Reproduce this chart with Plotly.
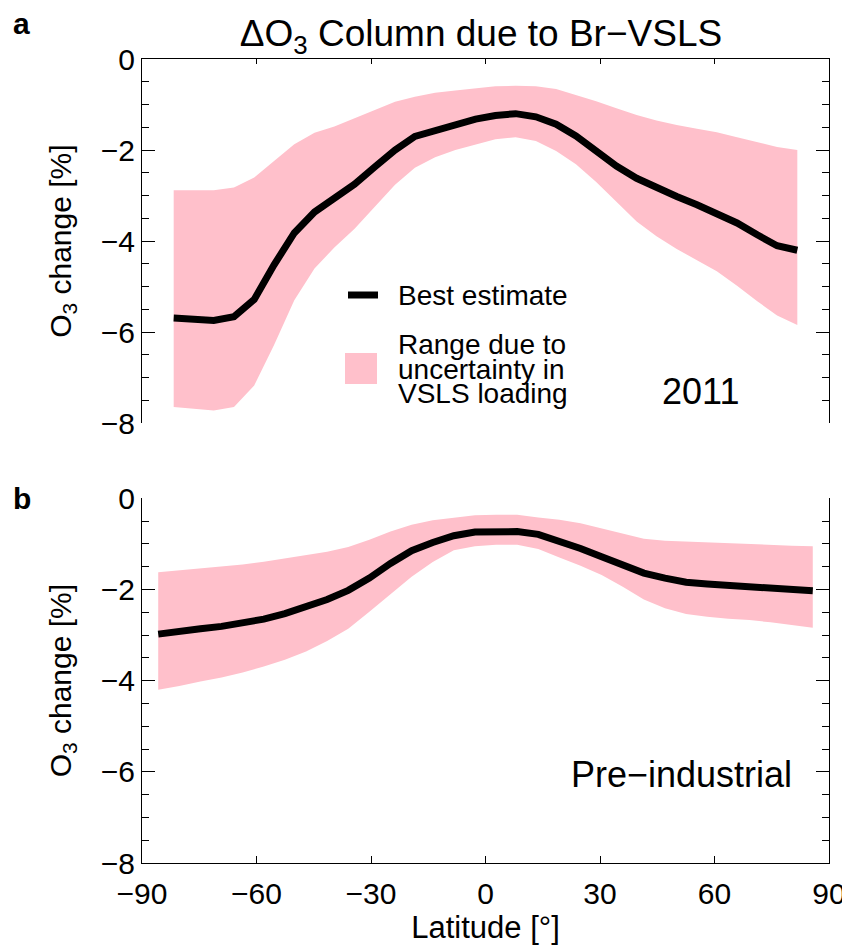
import plotly.graph_objects as go

# ---------------- data ----------------
lat_a = [-81.7, -76.4, -71.2, -65.9, -60.6, -55.4, -50.1, -44.8, -39.6, -34.3, -29.0, -23.7,
         -18.5, -13.2, -7.9, -2.6, 2.6, 7.9, 13.2, 18.5, 23.7, 29.0, 34.3, 39.6,
         44.8, 50.1, 55.4, 60.6, 65.9, 71.2, 76.4, 81.7]
best_a = [-5.69, -5.72, -5.74, -5.66, -5.28, -4.52, -3.82, -3.36, -3.04, -2.75, -2.37, -2.00,
          -1.70, -1.56, -1.43, -1.32, -1.24, -1.20, -1.27, -1.43, -1.69, -2.01, -2.35, -2.62,
          -2.83, -3.02, -3.20, -3.38, -3.60, -3.86, -4.10, -4.20]
upper_a = [-2.88, -2.88, -2.88, -2.82, -2.60, -2.24, -1.87, -1.62, -1.48, -1.30, -1.12, -0.94,
           -0.83, -0.74, -0.69, -0.64, -0.60, -0.59, -0.60, -0.66, -0.79, -0.93, -1.08, -1.23,
           -1.35, -1.45, -1.53, -1.61, -1.72, -1.82, -1.93, -2.00]
lower_a = [-7.64, -7.68, -7.72, -7.64, -7.17, -6.28, -5.30, -4.60, -4.14, -3.73, -3.25, -2.76,
           -2.39, -2.16, -2.00, -1.88, -1.76, -1.72, -1.80, -2.02, -2.31, -2.70, -3.14, -3.57,
           -3.89, -4.17, -4.42, -4.66, -4.98, -5.32, -5.63, -5.84]

lat_b = [-85.75, -80.22, -74.69, -69.15, -63.62, -58.09, -52.56, -47.02, -41.49, -35.96, -30.43, -24.90,
         -19.36, -13.83, -8.30, -2.77, 2.77, 8.30, 13.83, 19.36, 24.90, 30.43, 35.96, 41.49,
         47.02, 52.56, 58.09, 63.62, 69.15, 74.69, 80.22, 85.75]
best_b = [-2.98, -2.91, -2.86, -2.81, -2.74, -2.65, -2.53, -2.39, -2.22, -2.02, -1.75, -1.43,
          -1.15, -0.97, -0.82, -0.74, -0.72, -0.73, -0.79, -0.93, -1.10, -1.28, -1.48, -1.64,
          -1.75, -1.84, -1.88, -1.91, -1.94, -1.99, -2.01, -2.03]
upper_b = [-1.62, -1.58, -1.54, -1.50, -1.45, -1.39, -1.32, -1.25, -1.17, -1.07, -0.91, -0.73,
           -0.58, -0.48, -0.42, -0.37, -0.36, -0.36, -0.42, -0.47, -0.55, -0.66, -0.78, -0.89,
           -0.93, -0.95, -0.97, -0.98, -1.00, -1.02, -1.04, -1.05]
lower_b = [-4.20, -4.12, -4.02, -3.93, -3.82, -3.69, -3.54, -3.36, -3.13, -2.86, -2.49, -2.11,
           -1.72, -1.40, -1.14, -1.05, -1.02, -1.02, -1.11, -1.30, -1.48, -1.68, -1.94, -2.22,
           -2.41, -2.54, -2.60, -2.64, -2.67, -2.72, -2.78, -2.84]

x_ticks = [-90, -60, -30, 0, 30, 60, 90]
y_ticks = [0, -2, -4, -6, -8]

# ---------------- styling ----------------
FONT = "Liberation Sans, Arial, Helvetica, sans-serif"
PINK = "#FFC0CB"
BLACK = "#000000"
W, H = 850, 945
OFF = 8  # page body margin of the html page
ML, MR, MT, MB = 134, 29, 51, 90
PW, PH = W - ML - MR, H - MT - MB


def fx(px):  # page pixel -> paper
    return (px - OFF - ML) / PW


def fy(py):
    return (H - MB - (py - OFF)) / PH


fig = go.Figure()

for lat, lo, up, be, xa, ya in [(lat_a, lower_a, upper_a, best_a, "x", "y"),
                                (lat_b, lower_b, upper_b, best_b, "x2", "y2")]:
    fig.add_trace(go.Scatter(x=lat, y=lo, mode="lines", line=dict(width=0, color=PINK),
                             showlegend=False, hoverinfo="skip", xaxis=xa, yaxis=ya))
    fig.add_trace(go.Scatter(x=lat, y=up, mode="lines", line=dict(width=0, color=PINK),
                             fill="tonexty", fillcolor=PINK, showlegend=False,
                             hoverinfo="skip", xaxis=xa, yaxis=ya))
    fig.add_trace(go.Scatter(x=lat, y=be, mode="lines", line=dict(width=7, color=BLACK),
                             showlegend=False, xaxis=xa, yaxis=ya))

tickfont = dict(family=FONT, size=30, color=BLACK)
common_y = dict(range=[-8, 0], tickvals=y_ticks, ticks="inside", ticklen=13, tickwidth=1.3,
                tickcolor=BLACK, showline=True, linecolor=BLACK, linewidth=1.3, mirror="ticks",
                showgrid=False, zeroline=False, tickfont=tickfont,
                minor=dict(dtick=0.5, ticks="inside", ticklen=7, tickwidth=1.3, tickcolor=BLACK,
                           showgrid=False),
                title=dict(text="O<sub>3</sub> change [%]", font=dict(family=FONT, size=30, color=BLACK),
                           standoff=20))

bot_a = fy(423.3)
top_b = fy(498.3)

fig.update_layout(
    width=W, height=H,
    margin=dict(l=ML, r=MR, t=MT, b=MB, autoexpand=False),
    paper_bgcolor="white", plot_bgcolor="white",
    font=dict(family=FONT, color=BLACK),
    showlegend=False,
    xaxis=dict(domain=[0, 1], range=[-90, 90], anchor="y", side="top", tickvals=x_ticks,
               ticks="inside", ticklen=5, tickwidth=1.3, tickcolor=BLACK, showticklabels=False,
               showline=True, linecolor=BLACK, linewidth=1.3, mirror=False,
               showgrid=False, zeroline=False),
    yaxis=dict(domain=[bot_a, 1], anchor="x", **common_y),
    xaxis2=dict(domain=[0, 1], range=[-90, 90], anchor="y2", side="bottom", tickvals=x_ticks,
                ticks="inside", ticklen=7, tickwidth=1.3, tickcolor=BLACK, tickfont=tickfont,
                ticklabelstandoff=4,
                showline=True, linecolor=BLACK, linewidth=1.3, mirror=False,
                showgrid=False, zeroline=False,
                title=dict(text="Latitude [°]", font=dict(family=FONT, size=31, color=BLACK),
                           standoff=4)),
    yaxis2=dict(domain=[0, top_b], anchor="x2", **common_y),
    title=dict(text="ΔO<sub>3</sub> Column due to Br−VSLS", x=fx(481), xref="paper",
               xanchor="center", y=1 - (33 - OFF) / H, yanchor="middle",
               font=dict(family=FONT, size=37, color=BLACK)),
)

# custom legend (panel a)
fig.add_shape(type="line", xref="paper", yref="paper", x0=fx(348), x1=fx(378),
              y0=fy(295), y1=fy(295), line=dict(color=BLACK, width=7))
fig.add_shape(type="rect", xref="paper", yref="paper", x0=fx(345), x1=fx(377),
              y0=fy(384), y1=fy(353), line=dict(width=0), fillcolor=PINK)

ann_font = dict(family=FONT, size=28, color=BLACK)
for txt, ymid in [("Best estimate", 295), ("Range due to", 344), ("uncertainty in", 369),
                  ("VSLS loading", 394)]:
    fig.add_annotation(text=txt, xref="paper", yref="paper", x=fx(396), y=fy(ymid),
                       xanchor="left", yanchor="middle", showarrow=False, font=ann_font)

big_font = dict(family=FONT, size=36, color=BLACK)
fig.add_annotation(text="2011", xref="paper", yref="paper", x=fx(700), y=fy(391),
                   xanchor="center", yanchor="middle", showarrow=False, font=big_font)
fig.add_annotation(text="Pre−industrial", xref="paper", yref="paper", x=fx(794), y=fy(774),
                   xanchor="right", yanchor="middle", showarrow=False, font=big_font)

lab_font = dict(family=FONT, size=30, color=BLACK, weight="bold")
fig.add_annotation(text="<b>a</b>", xref="paper", yref="paper", x=fx(11), y=fy(24),
                   xanchor="left", yanchor="middle", showarrow=False, font=lab_font)
fig.add_annotation(text="<b>b</b>", xref="paper", yref="paper", x=fx(11), y=fy(499),
                   xanchor="left", yanchor="middle", showarrow=False, font=lab_font)

fig.write_html("out.html")
